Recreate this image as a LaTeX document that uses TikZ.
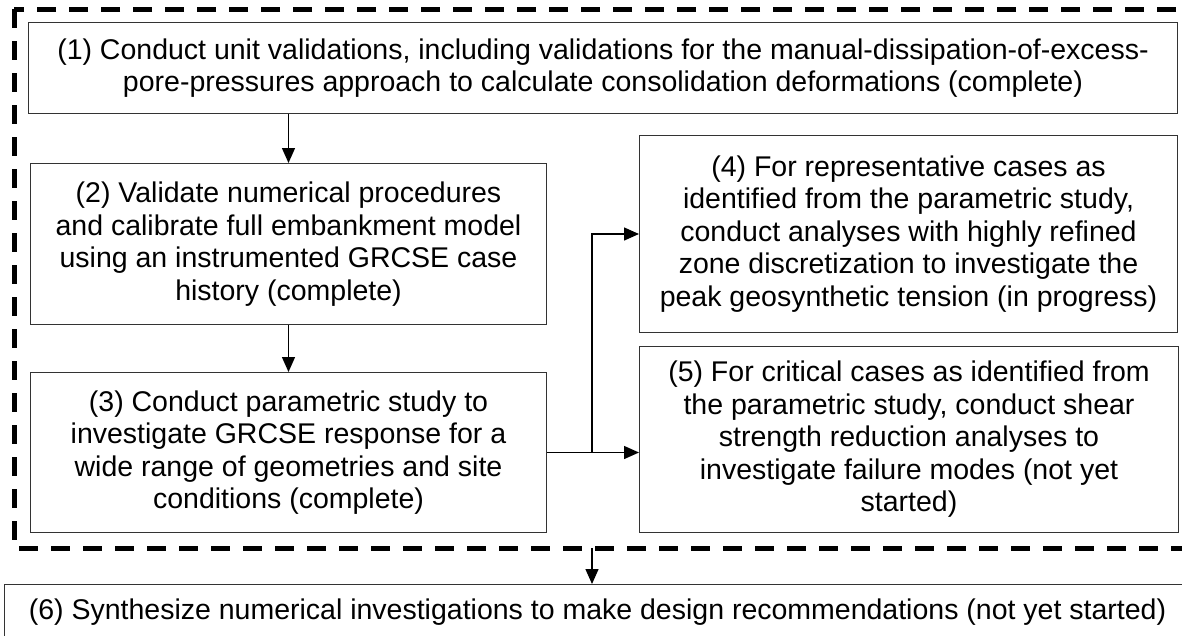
\documentclass[tikz,border=0pt]{standalone}
\usepackage{fontspec}
\setmainfont{Liberation Sans}
\usetikzlibrary{arrows.meta,positioning}

\tikzset{
  stepbox/.style={draw=black!80, line width=1pt, align=center, inner sep=0pt, anchor=north west,
                  font=\fontsize{28.5}{32.5}\selectfont},
  arr/.style={line width=1.4pt, -{Triangle[length=15pt,width=13pt]}},
  frame/.style={line width=5pt, dash pattern=on 19pt off 13pt}
}

\begin{document}
\begin{tikzpicture}[x=1pt,y=-1pt]
                \useasboundingbox (0,0) rectangle (1182,635);
                \clip (0,0) rectangle (1182,635);

                % numerical work, dashed frame
                \draw[frame] (14,9) rectangle (1192,548);

                % steps
                \node[stepbox, minimum width=1149pt, minimum height=91pt] (unit) at (28,22)
                  {(1) Conduct unit validations, including validations for the manual-dissipation-of-excess-\\
                   pore-pressures approach to calculate consolidation deformations (complete)};
                \node[stepbox, minimum width=516pt, minimum height=161pt] (calib) at (30,163)
                  {(2) Validate numerical procedures\\ and calibrate full embankment model\\
                   using an instrumented GRCSE case\\ history (complete)};
                \node[stepbox, minimum width=516pt, minimum height=160pt] (param) at (30,372)
                  {(3) Conduct parametric study to\\ investigate GRCSE response for a\\
                   wide range of geometries and site\\ conditions (complete)};
                \node[stepbox, minimum width=538pt, minimum height=197pt] (refine) at (639,135)
                  {(4) For representative cases as\\ identified from the parametric study,\\
                   conduct analyses with highly refined\\ zone discretization to investigate the\\
                   peak geosynthetic tension (in progress)};
                \node[stepbox, minimum width=539pt, minimum height=186pt] (ssr) at (639,346)
                  {(5) For critical cases as identified from\\ the parametric study, conduct shear\\
                   strength reduction analyses to\\ investigate failure modes (not yet\\ started)};
                \node[stepbox, minimum width=1186pt, minimum height=56pt] (synth) at (4,584)
                  {(6) Synthesize numerical investigations to make design recommendations (not yet started)};

                % connectors
                \coordinate (split) at (592,0);
                \coordinate (frameout) at (592,548);
                \draw[arr] (unit.south -| calib.north) -- (calib.north);
                \draw[arr] (calib.south) -- (param.north);
                \draw[arr] (param.east) -- (param.east -| ssr.west);
                \draw[arr] (split |- param.east) |- (refine.west);
                \draw[arr] (frameout) -- (frameout |- synth.north);
\end{tikzpicture}
\end{document}
